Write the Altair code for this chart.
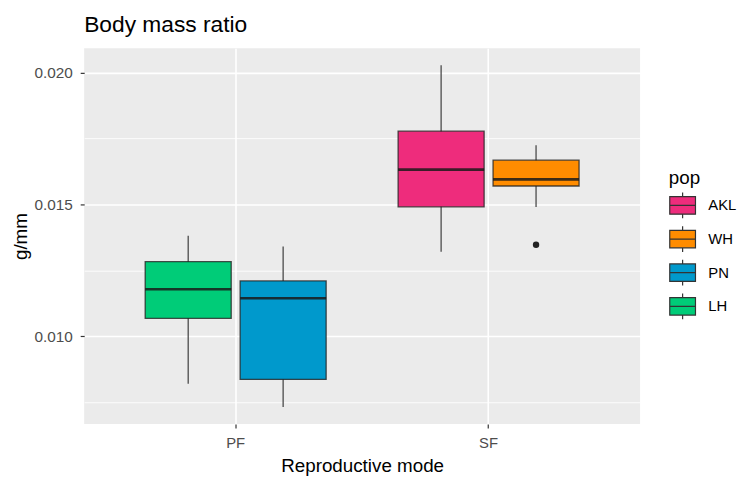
import altair as alt
import pandas as pd

# ---- data ----
modes = ["PF", "PF", "SF", "SF"]
pops = ["LH", "PN", "AKL", "WH"]
sides = ["a", "b", "a", "b"]
whisker_lo = [0.00820, 0.00732, 0.01321, 0.01490]
q1 = [0.01068, 0.00836, 0.01491, 0.01570]
median = [0.01178, 0.01144, 0.01632, 0.01595]
q3 = [0.01283, 0.01210, 0.01778, 0.01668]
whisker_hi = [0.01381, 0.01340, 0.02028, 0.01725]

outlier_mode = ["SF"]
outlier_pop = ["WH"]
outlier_side = ["b"]
outlier_value = [0.01347]

pop_order = ["AKL", "WH", "PN", "LH"]
pop_colors = ["#EE2C7C", "#FF8C00", "#0099CC", "#00CC78"]
y_ticks = [0.0075, 0.010, 0.0125, 0.015, 0.0175, 0.020]

boxes = pd.DataFrame({
    "mode": modes, "pop": pops, "side": sides,
    "lo": whisker_lo, "q1": q1, "median": median, "q3": q3, "hi": whisker_hi,
})
outliers = pd.DataFrame({
    "mode": outlier_mode, "pop": outlier_pop, "side": outlier_side, "value": outlier_value,
})

FONT = "Liberation Sans"
major_test = "abs(datum.value*200 - round(datum.value*200)) < 0.01"

x_enc = alt.X(
    "mode:N",
    title="Reproductive mode",
    scale=alt.Scale(domain=["PF", "SF"], paddingInner=0, paddingOuter=0.099),
    axis=alt.Axis(
        labelAngle=0, domain=False, tickColor="#333333", tickSize=4, tickWidth=1.2,
        labelColor="#4D4D4D", labelFontSize=15, labelFont=FONT, labelPadding=8,
        titleFontSize=19, titleFont=FONT, titleFontWeight="normal", titleColor="black",
        titlePadding=6, grid=True, gridColor="white", gridWidth=1.6, bandPosition=0.5,
    ),
)
xoff_enc = alt.XOffset(
    "side:N",
    scale=alt.Scale(domain=["a", "b"], paddingInner=0.094, paddingOuter=0.379),
)
y_scale = alt.Scale(domain=[0.00667, 0.02093], nice=False, zero=False)
y_axis = alt.Axis(
    values=y_ticks,
    labelExpr=f"{major_test} ? format(datum.value, '.3f') : ''",
    domain=False, tickColor="#333333", tickSize=4, tickWidth=1.2,
    tickOpacity={"condition": {"test": major_test, "value": 1}, "value": 0},
    labelColor="#4D4D4D", labelFontSize=15.5, labelFont=FONT, labelPadding=8,
    titleFontSize=19, titleFont=FONT, titleFontWeight="normal", titleColor="black",
    titlePadding=3,
    grid=True, gridColor="white",
    gridWidth={"condition": {"test": major_test, "value": 1.6}, "value": 0.9},
)

base = alt.Chart(boxes)

whiskers = base.mark_rule(color="#4a4a4a", strokeWidth=1.3).encode(
    x=x_enc, xOffset=xoff_enc,
    y=alt.Y("lo:Q", title="g/mm", scale=y_scale, axis=y_axis),
    y2="hi:Q",
)

legend_symbol = "M-1,-0.68H1V0.68H-1Z M-1,0H1 M0,-0.68V-1 M0,0.68V1"

box = base.mark_bar(stroke="#222222", strokeOpacity=0.8, strokeWidth=1.3, opacity=1).encode(
    x=x_enc, xOffset=xoff_enc,
    y=alt.Y("q1:Q", scale=y_scale),
    y2="q3:Q",
    color=alt.Color(
        "pop:N",
        scale=alt.Scale(domain=pop_order, range=pop_colors),
        legend=alt.Legend(
            title="pop", orient="none", legendX=591, legendY=122,
            titleFontSize=19, titleFont=FONT, titleFontWeight="normal", titleColor="black",
            titlePadding=4,
            labelFontSize=15, labelFont=FONT, labelColor="black", labelOffset=12,
            symbolType=legend_symbol, symbolSize=676, symbolStrokeColor="#333333",
            symbolStrokeWidth=1.2, symbolOpacity=1, rowPadding=2,
        ),
    ),
)

med = base.mark_bar(fillOpacity=0, stroke="#1a1a1a", strokeOpacity=0.85, strokeWidth=2.6).encode(
    x=x_enc, xOffset=xoff_enc,
    y=alt.Y("median:Q", scale=y_scale),
    y2=alt.Y2("median:Q"),
)

outl = alt.Chart(outliers).mark_circle(size=42, color="#222222", opacity=1).encode(
    x=x_enc, xOffset=xoff_enc,
    y=alt.Y("value:Q", scale=y_scale),
)

chart = alt.layer(whiskers, box, med, outl).properties(
    width=562, height=380,
    background="white",
    title=alt.TitleParams(
        "Body mass ratio", anchor="start", frame="group", fontSize=23,
        fontWeight="normal", font=FONT, color="black", baseline="alphabetic", offset=-7,
    ),
    padding={"left": 77, "top": 38, "right": 100, "bottom": 53},
    autosize=alt.AutoSizeParams(type="none"),
).configure_view(fill="#EBEBEB", stroke=None)

chart.save("out.html", embed_options={"renderer": "svg", "actions": False})
